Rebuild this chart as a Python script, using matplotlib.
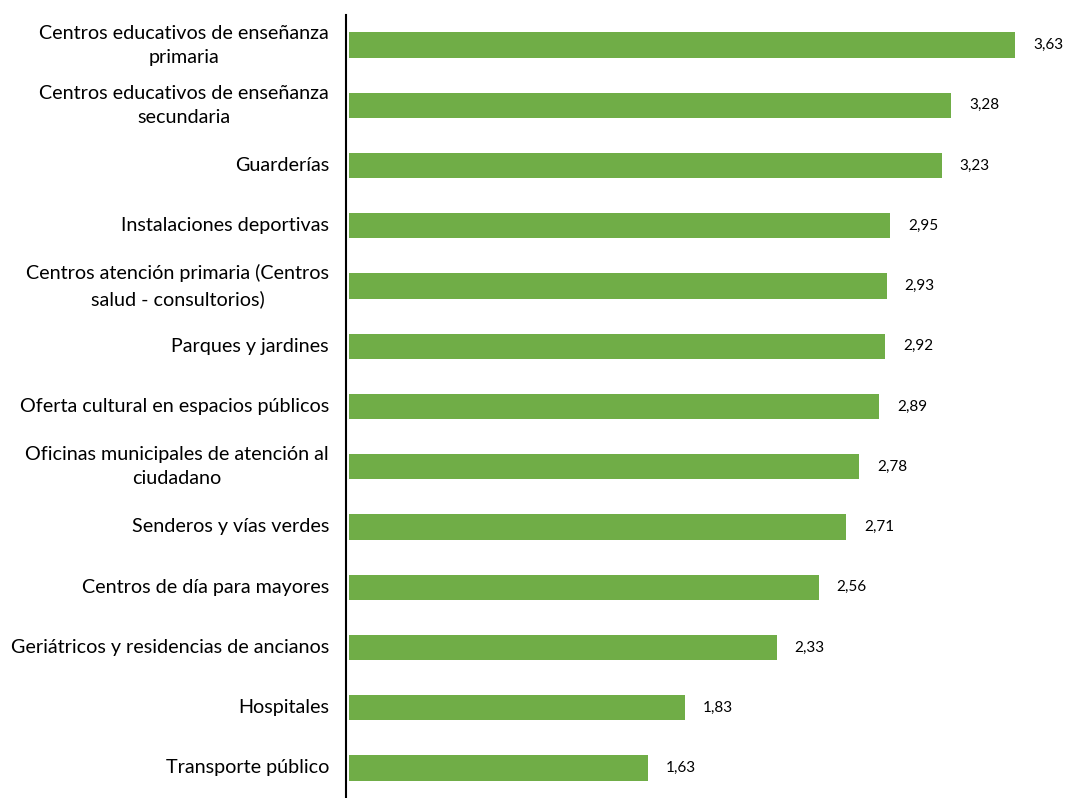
import matplotlib
matplotlib.use("Agg")
import matplotlib.pyplot as plt

categories = [
    "Centros educativos de enseñanza\nprimaria",
    "Centros educativos de enseñanza\nsecundaria",
    "Guarderías",
    "Instalaciones deportivas",
    "Centros atención primaria (Centros\nsalud - consultorios)",
    "Parques y jardines",
    "Oferta cultural en espacios públicos",
    "Oficinas municipales de atención al\nciudadano",
    "Senderos y vías verdes",
    "Centros de día para mayores",
    "Geriátricos y residencias de ancianos",
    "Hospitales",
    "Transporte público",
]
values = [3.63, 3.28, 3.23, 2.95, 2.93, 2.92, 2.89, 2.78, 2.71, 2.56, 2.33, 1.83, 1.63]
value_labels = ["3,63", "3,28", "3,23", "2,95", "2,93", "2,92", "2,89", "2,78", "2,71", "2,56", "2,33", "1,83", "1,63"]

plt.rcParams['font.family'] = ['Lato', 'DejaVu Sans']

fig = plt.figure(figsize=(10.68, 7.98), dpi=100)
ax = fig.add_axes([349/1068, 0.0, 1 - 349/1068, (798-15)/798])

y = list(range(len(categories)))
ax.barh(y, values, height=0.42, color="#70AD47")
ax.set_ylim(len(categories) - 0.5, -0.5)
ax.set_xlim(0, (1068-349)/183.5)

ax.set_yticks([])
ax.set_xticks([])
for s in ['top', 'right', 'bottom']:
    ax.spines[s].set_visible(False)
ax.spines['left'].set_linewidth(1.5)
ax.spines['left'].set_position(('outward', 2))

trans = ax.get_yaxis_transform()
for yi, cat in zip(y, categories):
    ax.annotate(cat, (0, yi), xycoords=trans, xytext=(-20, 0), textcoords='offset pixels',
                ha='right', va='center', multialignment='center', linespacing=1.5,
                fontsize=14.2, color="#000000", annotation_clip=False)

for yi, v, lab in zip(y, values, value_labels):
    ax.annotate(lab, (v, yi), xytext=(18, 0), textcoords='offset pixels',
                va='center', ha='left', fontsize=11, color="#000000")

fig.savefig("out.png", dpi=100)
